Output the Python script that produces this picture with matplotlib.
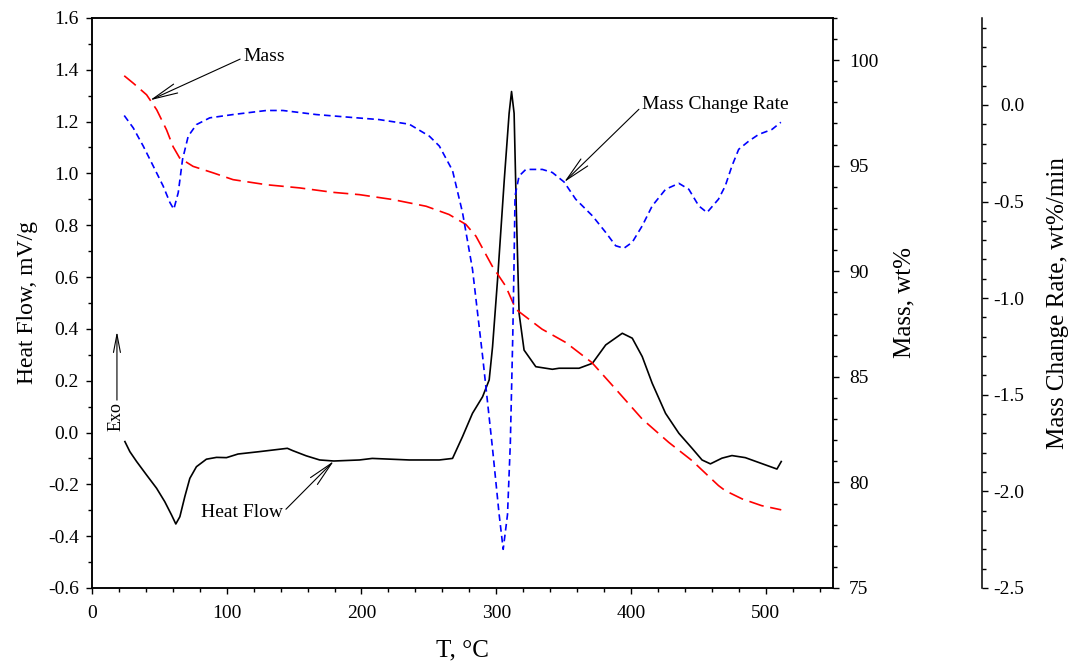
import numpy as np
import matplotlib
matplotlib.use('Agg')
import matplotlib.pyplot as plt
from matplotlib.ticker import MultipleLocator, FormatStrFormatter

plt.rcParams['font.family'] = ['Liberation Serif', 'DejaVu Serif']
plt.rcParams['axes.unicode_minus'] = False

# Heat flow (mV/g) vs T
hf_T = [24.4, 28.1, 33.1, 40.5, 47.9, 54, 59, 62.2, 65.2, 68.9, 72.6, 77.5, 84.9, 92.4, 99.8,
        108.4, 124, 145, 149, 159, 169, 179.5, 198.5, 208, 235.5, 257.8, 267.6, 275, 282.4,
        289.9, 294.8, 297.3, 301, 306, 309.6, 311.4, 313.3, 315, 317, 320.7, 329.4, 341.7,
        346.7, 361.5, 371.4, 381.3, 393.6, 401, 408.4, 415.8, 425.7, 435.6, 445.4, 452.8,
        459, 467.6, 475, 484.9, 508.4, 511.6]
hf = [-0.035, -0.074, -0.112, -0.164, -0.215, -0.267, -0.318, -0.353, -0.325, -0.247, -0.177,
      -0.132, -0.103, -0.096, -0.097, -0.083, -0.074, -0.061, -0.07, -0.09, -0.106, -0.11,
      -0.106, -0.1, -0.106, -0.106, -0.1, -0.016, 0.074, 0.138, 0.203, 0.331, 0.589, 0.975,
      1.232, 1.316, 1.232, 0.846, 0.46, 0.318, 0.254, 0.244, 0.248, 0.248, 0.267, 0.338,
      0.383, 0.364, 0.293, 0.19, 0.074, -0.003, -0.061, -0.106, -0.121, -0.099, -0.089,
      -0.097, -0.141, -0.112]

# Mass (wt%) vs T
m_T = [23.9, 30.6, 40.5, 48, 55.3, 60.2, 65, 75, 90, 104.7, 129.4, 154, 178.7, 198.5, 223,
       248, 265, 277.5, 285, 297, 307, 314.6, 334, 351.6, 371, 388.7, 408.4, 428, 445.4,
       465, 470, 482.5, 497, 511.6]
mass = [99.26, 98.91, 98.36, 97.65, 96.7, 95.9, 95.37, 94.97, 94.66, 94.34, 94.1, 93.95,
        93.74, 93.63, 93.4, 93.08, 92.69, 92.22, 91.66, 90.25, 89.3, 88.2, 87.26, 86.63,
        85.68, 84.42, 83.0, 81.9, 81.03, 79.85, 79.61, 79.22, 78.9, 78.7]

# Mass change rate (wt%/min) vs T
r_T = [23.9, 30.6, 38, 45.4, 52.8, 57.8, 60.7, 64, 67.2, 71.4, 77.5, 87.4, 104.7, 129.4,
       141.7, 166.4, 191, 213, 235.5, 250.4, 257.8, 267.6, 275, 282.4, 289.9, 297.3, 302.2,
       305.2, 308.4, 310.5, 312.3, 313.3, 314, 317, 322, 334.3, 341.7, 350.4, 359, 371.4,
       381.3, 388.7, 394.8, 401, 408.4, 415.8, 425.7, 435.6, 443, 450.4, 456.5, 465, 470,
       475, 480, 487.4, 494.8, 504.7, 511.3]
rate = [-0.055, -0.119, -0.213, -0.316, -0.42, -0.505, -0.54, -0.454, -0.282, -0.162, -0.102,
        -0.067, -0.05, -0.029, -0.029, -0.05, -0.064, -0.076, -0.1, -0.162, -0.213, -0.34,
        -0.557, -0.85, -1.3, -1.78, -2.12, -2.30, -2.12, -1.75, -1.2, -0.8, -0.471, -0.368,
        -0.334, -0.334, -0.35, -0.399, -0.488, -0.574, -0.66, -0.729, -0.742, -0.711,
        -0.626, -0.523, -0.437, -0.406, -0.437, -0.523, -0.557, -0.488, -0.42, -0.316,
        -0.23, -0.188, -0.153, -0.127, -0.09]

fig = plt.figure(figsize=(10.7, 6.64), dpi=100)
ax = fig.add_axes([0.086, 0.1145, 0.6925, 0.8585])
ax2 = ax.twinx()
ax3 = ax.twinx()

ax.plot(hf_T, hf, color='black', lw=1.2)
ax2.plot(m_T, mass, color='red', lw=1.2, dashes=(9, 4))
ax3.plot(r_T, rate, color='blue', lw=1.2, dashes=(4, 2.5))

ax.set_xlim(0, 550)
ax.set_ylim(-0.6, 1.6)
ax2.set_ylim(75, 102)
ax3.set_ylim(-2.5, 0.45)

ax.xaxis.set_major_locator(MultipleLocator(100))
ax.xaxis.set_minor_locator(MultipleLocator(20))
ax.yaxis.set_major_locator(MultipleLocator(0.2))
ax.yaxis.set_minor_locator(MultipleLocator(0.1))
ax.yaxis.set_major_formatter(FormatStrFormatter('%.1f'))
ax2.yaxis.set_major_locator(MultipleLocator(5))
ax2.yaxis.set_minor_locator(MultipleLocator(1))
ax3.yaxis.set_major_locator(MultipleLocator(0.5))
ax3.yaxis.set_minor_locator(MultipleLocator(0.1))
ax3.yaxis.set_major_formatter(FormatStrFormatter('%.1f'))

ax3.spines['right'].set_position(('axes', 1.201))
for s in ['top', 'left', 'bottom']:
    ax3.spines[s].set_visible(False)

for a in (ax, ax2, ax3):
    a.tick_params(which='both', direction='out', labelsize=14, width=1)
    a.tick_params(which='major', length=4.5)
    a.tick_params(which='minor', length=3)
    for s in a.spines.values():
        s.set_linewidth(1.1)
ax.tick_params(axis='x', which='major', pad=8)
ax.tick_params(axis='y', which='major', pad=5)
ax2.tick_params(axis='y', which='major', pad=7)
ax3.tick_params(axis='y', which='major', pad=26)
plt.setp(ax3.get_yticklabels(), ha='right')

ax.set_xlabel('T, °C', fontsize=18, labelpad=12)
ax.set_ylabel('Heat Flow, mV/g', fontsize=17, labelpad=7)
ax2.set_ylabel('Mass, wt%', fontsize=18, labelpad=11)
ax3.set_ylabel('Mass Change Rate, wt%/min', fontsize=18, labelpad=16)

arrow = dict(arrowstyle='->,head_length=1.3,head_width=0.25', color='black', lw=0.8,
             shrinkA=0, shrinkB=0)
ax2.annotate('Mass', xy=(43, 98.1), xytext=(112, 100.15), fontsize=14, ha='left',
             va='center', arrowprops=dict(arrow, relpos=(0, 0.45)))
ax.annotate('Heat Flow', xy=(179.5, -0.11), xytext=(81, -0.307), fontsize=14, ha='left',
            va='center', arrowprops=dict(arrow, relpos=(1, 0.5)))
ax3.annotate('Mass Change Rate', xy=(350.4, -0.40), xytext=(408, 0.0), fontsize=14,
             ha='left', va='center', arrowprops=dict(arrow, relpos=(0, 0.4)))
ax.annotate('', xy=(18.5, 0.39), xytext=(18.5, 0.125), arrowprops=arrow)
ax.text(17.5, 0.06, 'Exo', rotation=90, fontsize=13, ha='center', va='center')

fig.savefig('out.png', dpi=100)
